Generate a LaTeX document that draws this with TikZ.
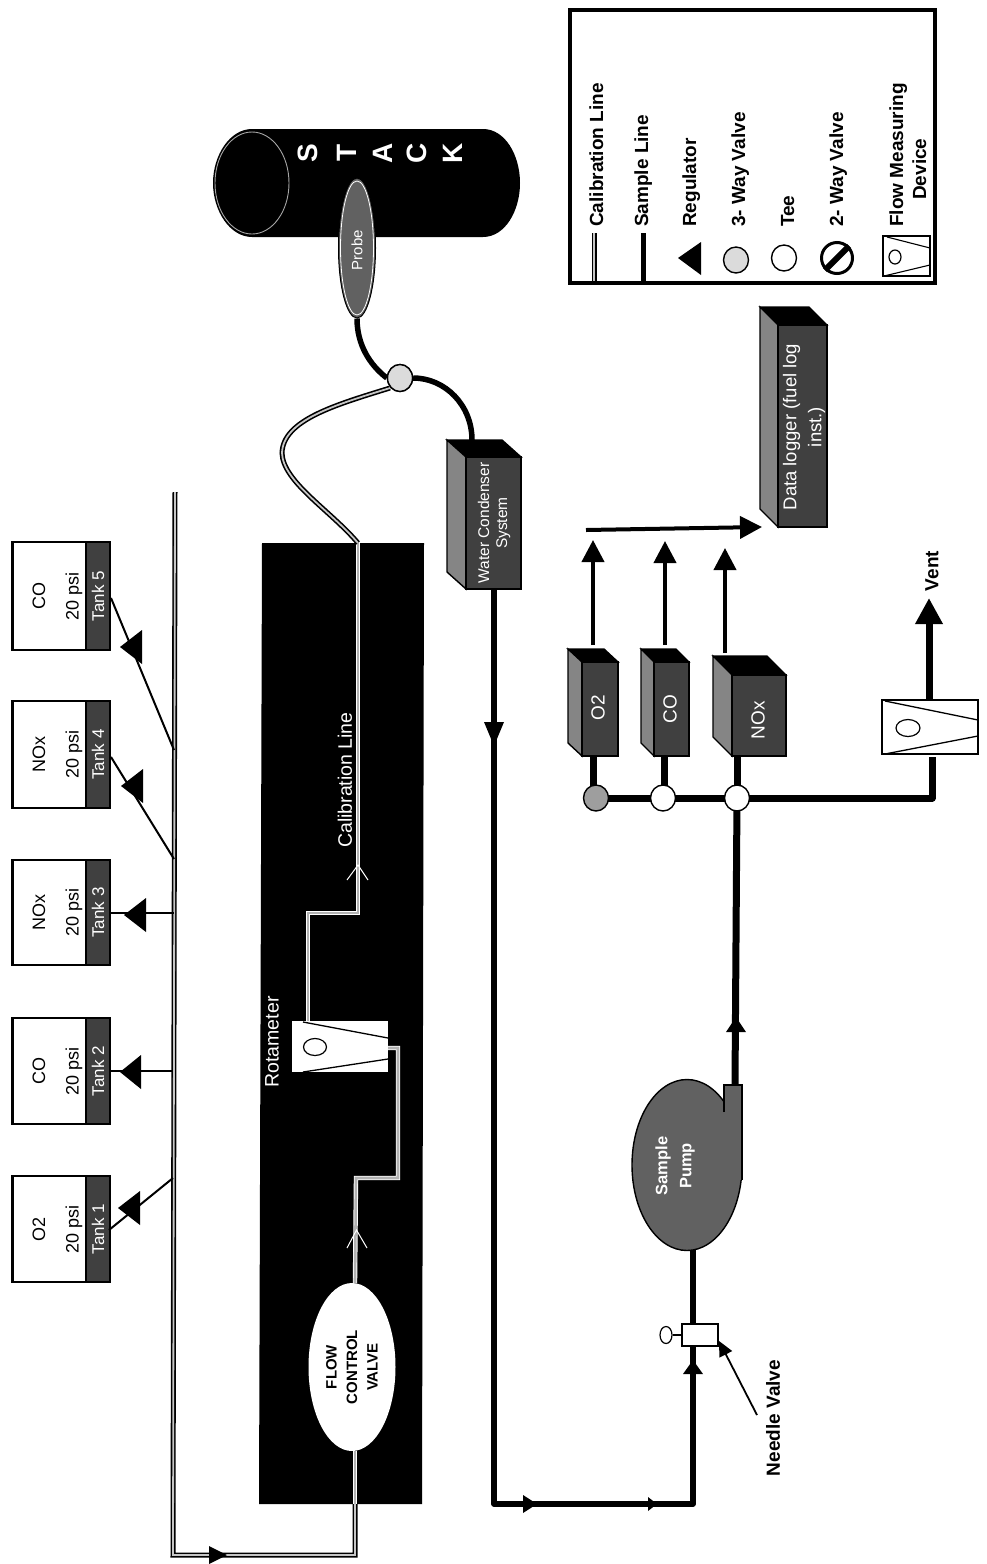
\documentclass[tikz,border=0pt]{standalone}
\usepackage{fontspec}
\setmainfont{Liberation Sans}
\usetikzlibrary{shapes.geometric,arrows.meta}
\definecolor{darkface}{gray}{0.25}
\definecolor{pumpface}{gray}{0.38}
\definecolor{sideface}{gray}{0.52}
\definecolor{valvegray}{gray}{0.86}
\definecolor{valvedark}{gray}{0.62}
\tikzset{
  calline/.style={draw=black,line width=1.6pt,double=gray!45,double distance=1.8pt},
  calinner/.style={draw=white,line width=0.9pt,double=gray!60,double distance=2.6pt},
  sampline/.style={draw=black,line width=5.5pt},
  bigline/.style={draw=black,line width=7pt},
  thinline/.style={draw=black,line width=2pt},
  sigline/.style={draw=black,line width=4pt,-{Triangle[length=22pt,width=22pt]}},
  chev/.style={draw=white,line width=1pt},
  rtext/.style={rotate=90,inner sep=0pt,font=\fontsize{19}{19}\selectfont},
  btext/.style={rotate=90,inner sep=0pt,font=\fontsize{19}{19}\selectfont\bfseries,anchor=base west},
  white text/.style={rotate=90,inner sep=0pt,text=white},
  tee/.style={ellipse,draw=black,line width=1.4pt,fill=white,minimum width=25pt,minimum height=26pt,inner sep=0pt},
  threeway/.style={ellipse,draw=black,line width=1.4pt,fill=valvegray,minimum width=25pt,minimum height=26pt,inner sep=0pt},
  float/.style={ellipse,draw=black,line width=1.2pt,fill=white,inner sep=0pt},
}
% tank: id, top, bottom, gas, number
\newcommand{\tankunit}[5]{%
  \pgfmathsetmacro{\ymid}{(#2+#3)/2}%
  \pgfmathsetmacro{\yh}{#3-#2}%
  \node[draw=black,line width=2.6pt,fill=white,minimum width=74pt,minimum height=\yh pt,inner sep=0pt] (body#1) at (49.5,\ymid) {};
  \node[draw=black,line width=1.2pt,fill=darkface,minimum width=24pt,minimum height=\yh pt,inner sep=0pt] (lab#1) at (98,\ymid) {};
  \node[rtext,font=\fontsize{18}{18}\selectfont] (gas#1) at (39,\ymid) {#4};
  \node[rtext,font=\fontsize{18}{18}\selectfont] (psi#1) at (74,\ymid) {20 psi};
  \node[white text,font=\fontsize{17}{17}\selectfont] (num#1) at (98,\ymid) {Tank #5};
}
% regulator triangle: apex x, base x, y centre
\newcommand{\regtri}[3]{\fill[black] (#1,#3) -- (#2,#3-17) -- (#2,#3+17) -- cycle;}
% 3-D instrument box: x0,y0,x1,y1,dx,dy
\newcommand{\instbox}[6]{%
  \filldraw[draw=black,line width=1.4pt,fill=black] (#1,#2) -- (#3-#5,#2) -- (#3,#2+#6) -- (#1+#5,#2+#6) -- cycle;
  \filldraw[draw=black,line width=1.4pt,fill=sideface] (#1,#2) -- (#1+#5,#2+#6) -- (#1+#5,#4) -- (#1,#4-#6) -- cycle;
  \filldraw[draw=black,line width=1.4pt,fill=darkface] (#1+#5,#2+#6) rectangle (#3,#4);
}
\begin{document}
\begin{tikzpicture}[x=1pt,y=-1pt]
\useasboundingbox (0,0) rectangle (987,1564);
\fill[white] (0,0) rectangle (987,1564);

%% black enclosure
\fill[black] (262,543) -- (424,543) -- (422,1504) -- (259,1504) -- cycle;

%% header and tanks
\tankunit{5}{542}{650}{CO}{5}
\tankunit{4}{701}{808}{NOx}{4}
\tankunit{3}{860}{965}{NOx}{3}
\tankunit{2}{1018}{1124}{CO}{2}
\tankunit{1}{1176}{1282}{O2}{1}

\coordinate (hstart) at (175,492);
\coordinate (hcorner) at (173,1555);
\coordinate (hend) at (355,1555);
\coordinate (fcvin) at (355,1504);
\draw[calline] (hstart) -- (hcorner) -- (hend) -- (fcvin);
\draw[calinner] (fcvin) -- (355,1451);
\fill[black] (227,1555) -- (209,1546) -- (209,1564) -- cycle;

\coordinate (h5) at (174,750);
\coordinate (h4) at (174,859);
\coordinate (h3) at (174,913);
\coordinate (h2) at (173,1071);
\coordinate (h1) at (173,1178);
\coordinate (s5) at (111,598);
\coordinate (s4) at (111,757);
\coordinate (s1) at (109,1230);
\draw[thinline] (s5) -- (h5);
\draw[thinline] (s4) -- (h4);
\draw[thinline] (lab3.east |- h3) -- (h3);
\draw[thinline] (lab2.east |- h2) -- (h2);
\draw[thinline] (s1) -- (h1);
\regtri{120}{142}{647}
\regtri{121}{143}{786}
\regtri{124}{146}{915}
\regtri{120}{141}{1072}
\regtri{118}{140}{1208}

%% flow control valve
\node[ellipse,fill=white,minimum width=87pt,minimum height=168pt,inner sep=0pt] (fcv) at (352,1367) {};
\node[rotate=90,align=center,inner sep=0pt,font=\fontsize{15}{20.5}\selectfont\bfseries] (fcvtext) at (352,1367) {FLOW\\CONTROL\\VALVE};

%% rotameter
\node[fill=white,minimum width=96pt,minimum height=51pt,inner sep=0pt] (rota) at (340,1046.5) {};
\coordinate (rotaout) at (308,1021);
\coordinate (rotain) at (388,1048);
\draw[black,line width=1.3pt] (303,1022) -- (388,1038);
\draw[black,line width=1.3pt] (303,1072) -- (388,1059);
\node[float,minimum width=23pt,minimum height=17pt] (rotafloat) at (315,1047) {};

%% calibration line inside enclosure
\coordinate (c1) at (356,1178);
\coordinate (c2) at (398,1178);
\coordinate (c3) at (398,1048);
\coordinate (c4) at (308,913);
\coordinate (c5) at (358,913);
\coordinate (c6) at (358,543);
\draw[calinner] (355,1283) -- (c1) -- (c2) -- (c3) -- (rotain);
\draw[calinner] (rotaout) -- (c4) -- (c5) -- (c6);
\draw[chev] (347,1248) -- (356.5,1230) -- (367,1248);
\draw[chev] (347,880) -- (358,865) -- (368,880);
\node[white text,font=\fontsize{19.5}{19.5}\selectfont] (callabel) at (345,780) {Calibration Line};
\node[white text,font=\fontsize{19.5}{19.5}\selectfont] (rotalabel) at (272,1042) {Rotameter};

%% stack
\fill[black] (252,129) -- (483,129) .. controls (505,129) and (520,155) .. (520,183)
  .. controls (520,211) and (505,237) .. (483,237) -- (252,237)
  .. controls (230,237) and (213,211) .. (213,183)
  .. controls (213,155) and (230,129) .. (252,129) -- cycle;
\node[ellipse,draw=gray!70,line width=0.9pt,minimum width=74pt,minimum height=102pt,inner sep=0pt] (stackend) at (252,183) {};
\foreach \lx/\ch in {308/S,347/T,383/A,417/C,453/K}{
  \node[white text,font=\fontsize{28}{28}\selectfont\bfseries] at (\lx,153) {\ch};
}
\node[ellipse,draw=black,line width=1pt,fill=pumpface,minimum width=37pt,minimum height=140pt,inner sep=0pt] (probe) at (357,248) {};
\node[ellipse,draw=white,line width=0.8pt,minimum width=33pt,minimum height=134pt,inner sep=0pt] (proberim) at (357,248) {};
\node[white text,font=\fontsize{15}{15}\selectfont] (probetext) at (357,250) {Probe};

%% stack 3-way valve and curves
\coordinate (condtop) at (472,440);
\coordinate (vcal) at (390,388);
\coordinate (capex) at (282,453);
\node[threeway,minimum width=25pt,minimum height=27pt] (valve) at (400,378) {};
\draw[sampline] (probe.south) .. controls (357,345) and (370,365) .. (valve.west);
\draw[sampline] (valve.east) .. controls (445,378) and (472,405) .. (condtop);
\draw[calline] (vcal) .. controls (335,405) and (283,420) .. (capex) .. controls (283,482) and (330,510) .. (c6);
\node[threeway,minimum width=25pt,minimum height=27pt] (valvetop) at (400,378) {};

%% sample line
\instbox{447}{440}{521}{589}{19}{17}
\node[white text,align=center,font=\fontsize{15.5}{18}\selectfont] (condtext) at (494,523) {Water Condenser\\System};

\coordinate (sl1) at (494,589);
\coordinate (sl2) at (494,1504);
\coordinate (sl3) at (693,1504);
\coordinate (sl4) at (693,1346);
\draw[sampline,line join=round] (sl1) -- (sl2) -- (sl3) -- (sl4);
\fill[black] (494,746) -- (484,722) -- (504,722) -- cycle;
\fill[black] (537,1504) -- (523,1495) -- (523,1513) -- cycle;
\fill[black] (657,1504) -- (648,1497) -- (648,1511) -- cycle;
\fill[black] (693,1360) -- (683,1374) -- (703,1374) -- cycle;

%% needle valve
\node[draw=black,line width=1.6pt,fill=white,minimum width=36pt,minimum height=22pt,inner sep=0pt] (needle) at (700,1335) {};
\node[ellipse,draw=black,line width=1.2pt,fill=white,minimum width=12pt,minimum height=17pt,inner sep=0pt] (handle) at (666,1335) {};
\draw[black,line width=1.2pt] (handle.east) -- (needle.west);
\coordinate (natail) at (757,1415);
\coordinate (natip) at (719,1341);
\draw[black,line width=1.8pt,-{Triangle[length=15pt,width=14pt]}] (natail) -- (natip);
\node[btext,anchor=center] (nvlabel) at (773,1418) {Needle Valve};

%% pump
\coordinate (pumpout) at (735,1085);
\coordinate (teeup) at (737,798);
\draw[sampline] (693,1324) -- (693,1245);
\draw[bigline] (pumpout) -- (teeup);
\fill[black] (736,1017) -- (726,1032) -- (746,1032) -- cycle;
\node[ellipse,draw=black,line width=1.4pt,fill=pumpface,minimum width=110pt,minimum height=171pt,inner sep=0pt] (pump) at (687,1165) {};
\fill[pumpface] (724,1086) rectangle (741,1180);
\draw[black,line width=1.2pt] (724,1112) -- (724,1085) -- (742,1085) -- (742,1180);
\node[white text,align=center,font=\fontsize{16.5}{24}\selectfont\bfseries] (pumptext) at (675,1166) {Sample\\Pump};

%% analyzer row
\coordinate (rowend) at (932,798);
\coordinate (ventin) at (932,757);
\draw[bigline,line join=round] (596,798) -- (rowend) -- (ventin);
\draw[bigline] (593,756) -- (593,798);
\draw[bigline] (664,756) -- (664,798);
\draw[bigline] (737,756) -- (737,798);
\instbox{568}{649}{618}{756}{14}{13}
\instbox{641}{649}{689}{756}{13}{13}
\instbox{713}{656}{786}{756}{19}{19}
\instbox{760}{307}{827}{527}{18}{18}
\node[white text,font=\fontsize{19}{19}\selectfont] (o2text) at (598,708) {O2};
\node[white text,font=\fontsize{19}{19}\selectfont] (cotext) at (670,709) {CO};
\node[white text,font=\fontsize{19}{19}\selectfont] (noxtext) at (758,720) {NOx};
\node[white text,align=center,font=\fontsize{18.5}{25}\selectfont] (dltext) at (804,427) {Data logger (fuel log\\inst.)};
\node[threeway,fill=valvedark] (v1) at (596,798) {};
\node[tee] (v2) at (663,798) {};
\node[tee] (v3) at (737,798) {};

%% signal arrows
\coordinate (o2out) at (593,645);
\coordinate (o2tip) at (593,540);
\coordinate (coout) at (665,645);
\coordinate (cotip) at (665,541);
\coordinate (noxout) at (725,653);
\coordinate (noxtip) at (725,548);
\coordinate (bus) at (586,530);
\coordinate (bustip) at (762,527);
\draw[sigline] (o2out) -- (o2tip);
\draw[sigline] (coout) -- (cotip);
\draw[sigline] (noxout) -- (noxtip);
\draw[sigline] (bus) -- (bustip);

%% vent
\node[draw=black,line width=1.3pt,fill=white,minimum width=96pt,minimum height=54pt,inner sep=0pt] (vdev) at (930,727) {};
\coordinate (ventout) at (929,700);
\coordinate (venttip) at (929,598);
\draw[draw=black,line width=7pt,-{Triangle[length=26pt,width=26pt]}] (ventout) -- (venttip);
\draw[black,line width=1.3pt] (885,701) -- (978,720);
\draw[black,line width=1.3pt] (885,754) -- (978,736);
\node[float,minimum width=24pt,minimum height=17pt] (vfloat) at (908,728) {};
\node[btext,anchor=center] (ventlabel) at (932,571) {Vent};

%% legend
\node[draw=black,line width=4pt,minimum width=365pt,minimum height=273pt,inner sep=0pt] (legend) at (752.5,146.5) {};
\coordinate (lcal) at (594,233);
\coordinate (lcalb) at (594,281);
\coordinate (lsam) at (643,233);
\coordinate (lsamb) at (643,281);
\draw[calline] (lcal) -- (lcalb);
\draw[black,line width=5pt] (lsam) -- (lsamb);
\node[btext] (l1) at (603,227) {Calibration Line};
\node[btext] (l2) at (648,227) {Sample Line};
\node[btext] (l3) at (696,227) {Regulator};
\node[btext] (l4) at (745,227) {3- Way Valve};
\node[btext] (l5) at (794,227) {Tee};
\node[btext] (l6) at (843,227) {2- Way Valve};
\node[btext] (l7) at (903,227) {Flow Measuring};
\node[btext] (l8) at (926,200) {Device};
\fill[black] (678,258) -- (701,242) -- (701,275) -- cycle;
\node[threeway] (lv3) at (736,260) {};
\node[tee] (ltee) at (784,258) {};
\node[circle,draw=black,line width=3pt,fill=white,minimum size=31pt,inner sep=0pt] (lv2) at (837,258) {};
\draw[black,line width=6pt] (lv2.south west) -- (lv2.north east);
\node[draw=black,line width=1.3pt,fill=white,minimum width=47pt,minimum height=40pt,inner sep=0pt] (ldev) at (906.5,256) {};
\draw[black,line width=1.1pt] (887,237) -- (930,248);
\draw[black,line width=1.1pt] (884,276) -- (930,265);
\node[float,minimum width=12pt,minimum height=14pt] (lfloat) at (895,257) {};
\end{tikzpicture}
\end{document}
